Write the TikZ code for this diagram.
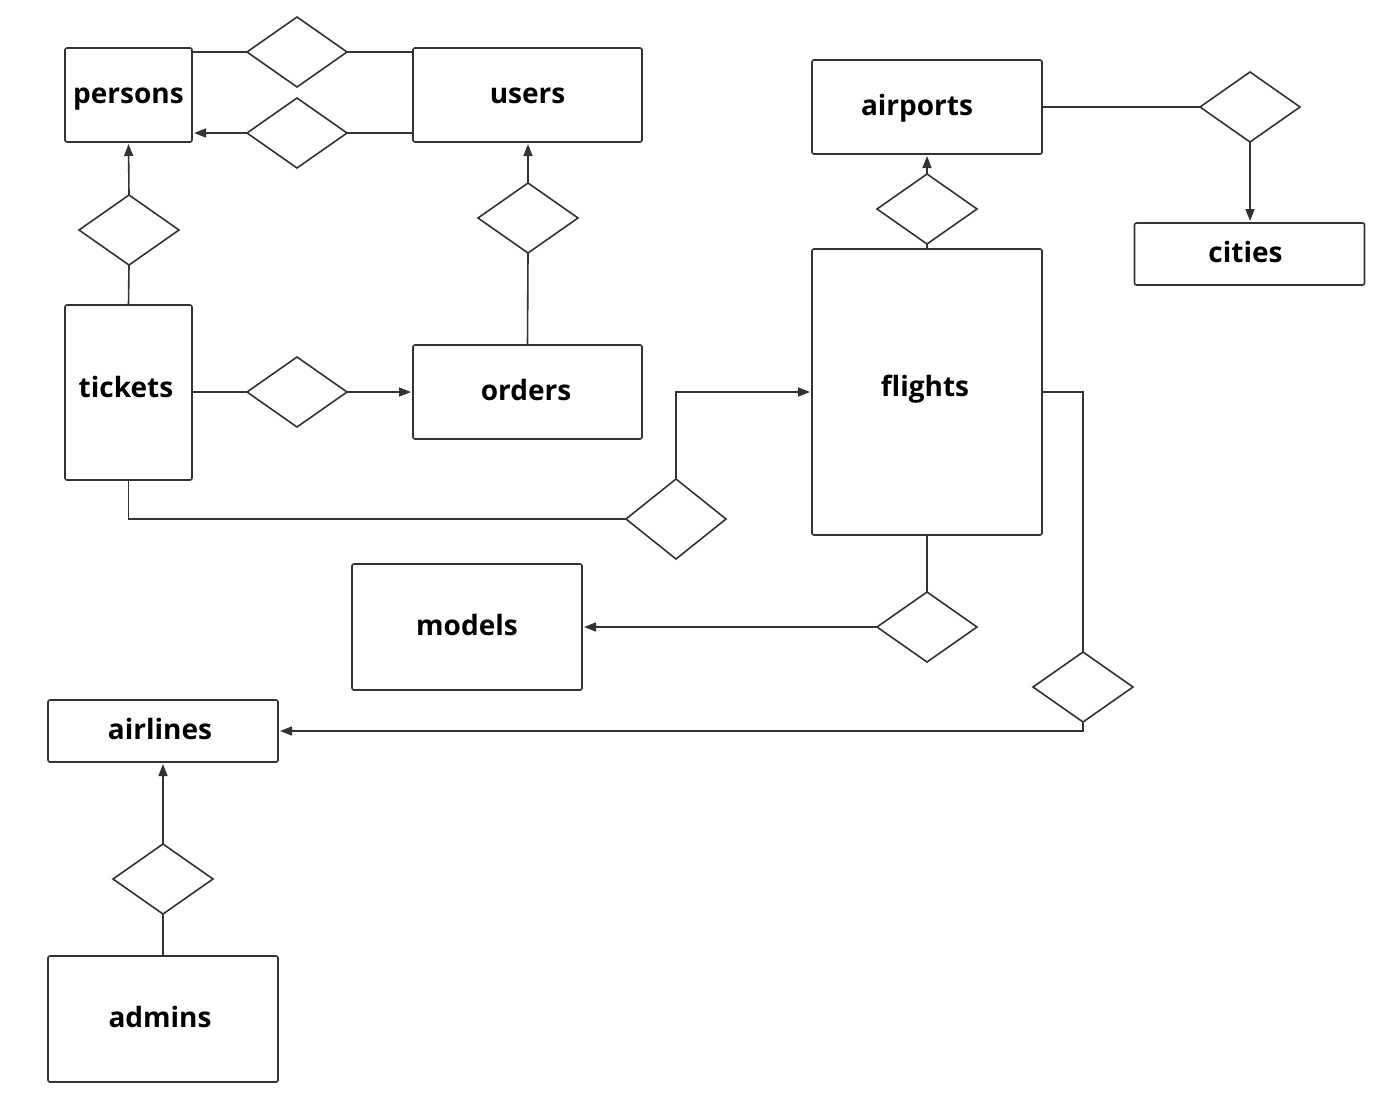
\documentclass[tikz,border=0pt]{standalone}
\usepackage{fontspec}
\setmainfont{Open Sans}
\usetikzlibrary{shapes.geometric,arrows.meta}
\definecolor{ln}{HTML}{333333}
\tikzset{
  ent/.style={draw=ln, line width=1.6pt, rounded corners=2pt, inner sep=0pt, outer sep=0pt,
    font=\fontsize{28}{30}\selectfont\bfseries, text=black, text height=22pt, text depth=5pt},
  rel/.style={draw=ln, line width=1.6pt, diamond, inner sep=0pt, outer sep=0pt,
    minimum width=100pt, minimum height=70pt},
  conn/.style={draw=ln, line width=1.6pt},
  arr/.style={conn, -{Triangle[length=12pt,width=9pt]}, shorten >=2pt}
}
\begin{document}
\begin{tikzpicture}[x=1pt,y=-1pt]
\useasboundingbox (0,0) rectangle (1396,1114);
\fill[white] (0,0) rectangle (1396,1114);
% entities
\node[ent, minimum width=127pt, minimum height=94pt] (persons) at (128.5,95) {persons};
\node[ent, minimum width=229pt, minimum height=94pt] (users) at (527.5,95) {users};
\node[ent, minimum width=230pt, minimum height=94pt] (airports) at (927,107) {\hspace*{-20pt}airports};
\node[ent, minimum width=230pt, minimum height=62pt] (cities) at (1249.5,254) {\hspace*{-8pt}cities};
\node[ent, minimum width=127pt, minimum height=175pt] (tickets) at (128.5,392.5) {\raisebox{4pt}{\hspace*{-5pt}tickets}};
\node[ent, minimum width=229pt, minimum height=94pt] (orders) at (527.5,392) {\hspace*{-3pt}orders};
\node[ent, minimum width=230pt, minimum height=286pt] (flights) at (927,392) {\raisebox{4pt}{\hspace*{-4pt}flights}};
\node[ent, minimum width=230pt, minimum height=126pt] (models) at (467,627) {models};
\node[ent, minimum width=230pt, minimum height=62pt] (airlines) at (163,731) {\hspace*{-6pt}airlines};
\node[ent, minimum width=230pt, minimum height=126pt] (admins) at (163,1019) {\hspace*{-6pt}admins};
% relationships
\node[rel] (d1) at (297,52) {};
\node[rel] (d2) at (297,133) {};
\node[rel] (d3) at (129,230) {};
\node[rel] (d4) at (528,218) {};
\node[rel] (d5) at (297,392) {};
\node[rel, minimum height=80pt] (d6) at (676,519) {};
\node[rel] (d7) at (927,209) {};
\node[rel] (d8) at (1250,107) {};
\node[rel] (d9) at (927,627) {};
\node[rel] (d10) at (1083,687) {};
\node[rel] (d11) at (163,879) {};
% connectors
\draw[conn] (d1.west -| persons.east) -- (d1.west);
\draw[conn] (d1.east) -- (d1.east -| users.west);
\draw[conn] (d2.east -| users.west) -- (d2.east);
\draw[arr] (d2.west) -- (d2.west -| persons.east);
\draw[conn] (tickets.north) -- (d3.south);
\draw[arr] (d3.north) -- (persons.south);
\draw[conn] (orders.north) -- (d4.south);
\draw[arr] (d4.north) -- (d4.north |- users.south);
\draw[conn] (d5.west -| tickets.east) -- (d5.west);
\draw[arr] (d5.east) -- (d5.east -| orders.west);
\draw[conn] (tickets.south) |- (d6.west);
\draw[arr] (d6.north) |- (flights.west);
\draw[conn] (flights.north) -- (d7.south);
\draw[arr] (d7.north) -- (airports.south);
\draw[conn] (d8.west -| airports.east) -- (d8.west);
\draw[arr] (d8.south) -- (d8.south |- cities.north);
\draw[conn] (flights.south) -- (d9.north);
\draw[arr] (d9.west) -- (d9.west -| models.east);
\draw[conn] (flights.east) -| (d10.north);
\draw[arr] (d10.south) |- (airlines.east);
\draw[conn] (admins.north) -- (d11.south);
\draw[arr] (d11.north) -- (airlines.south);
\end{tikzpicture}
\end{document}
